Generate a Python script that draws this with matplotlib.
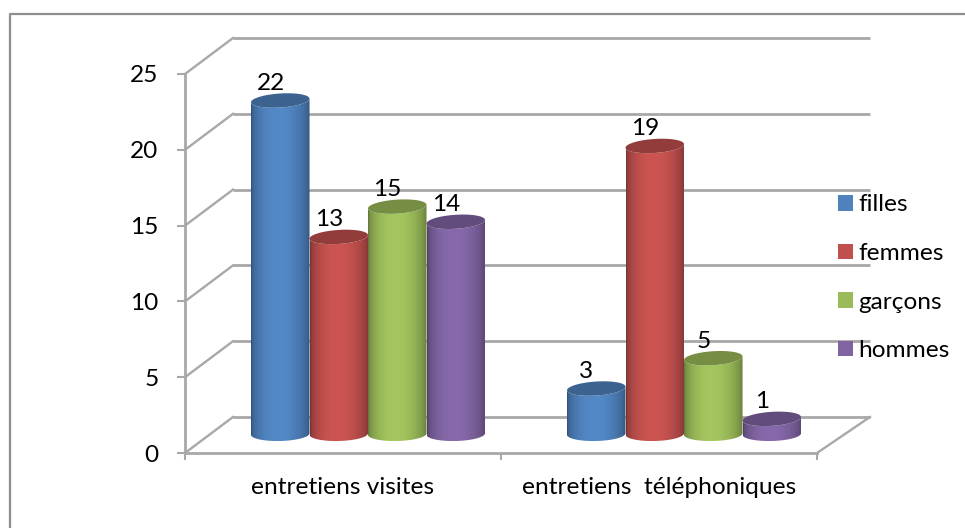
import numpy as np
import matplotlib
matplotlib.use("Agg")
import matplotlib.pyplot as plt
from matplotlib.colors import to_rgb
from matplotlib.lines import Line2D
from matplotlib.patches import Polygon, Patch

categories = ["entretiens visites", "entretiens  téléphoniques"]
series_names = ["filles", "femmes", "garçons", "hommes"]
filles = [22, 3]
femmes = [13, 19]
garcons = [15, 5]
hommes = [14, 1]
y_ticks = [0, 5, 10, 15, 20, 25]
colors = ["#4F81BD", "#C0504D", "#9BBB59", "#8064A2"]

W, H = 965, 528
GREY = "#A8A8A8"
plt.rcParams["font.family"] = ["Lato", "DejaVu Sans"]
FS = 17.6

fig = plt.figure(figsize=(W / 100, H / 100), dpi=100, facecolor="white")
L, R, B, T = 185, 817, 453, 74
ax = fig.add_axes([L / W, 1 - B / H, (R - L) / W, (B - T) / H])
ax.set_facecolor("none")
ax.set_xlim(0, 2)
ax.set_ylim(0, 25)

px_x = 2 / (R - L)
px_y = 25 / (B - T)

# wall and floor lines
dxl, dxr, dy = 48 * px_x, 53 * px_x, 36 * px_y
for v in y_ticks:
    ax.plot([0, dxl], [v, v + dy], color=GREY, lw=1.7, clip_on=False, zorder=1)
    ax.plot([dxl, 2 + dxr], [v + dy, v + dy], color=GREY, lw=2.0, clip_on=False, zorder=1,
            solid_capstyle="butt")
ax.plot([2, 2 + dxr], [0, dy], color=GREY, lw=1.7, clip_on=False, zorder=1)

# axes
for s in ("top", "right"):
    ax.spines[s].set_visible(False)
for s in ("left", "bottom"):
    ax.spines[s].set_color(GREY)
    ax.spines[s].set_linewidth(2.0)
ax.set_yticks(y_ticks)
ax.tick_params(axis="y", length=6, width=1.5, color=GREY, pad=13, labelsize=FS)
ax.set_xticks([0, 1, 2])
ax.set_xticklabels([])
ax.tick_params(axis="x", which="major", length=5, width=1.5, color=GREY)
ax.set_xticks([0.5, 1.5], minor=True)
ax.set_xticklabels(categories, minor=True, fontsize=FS)
ax.tick_params(axis="x", which="minor", length=0, pad=17)


def shade(c, f):
    return np.clip(np.array(to_rgb(c)) * f, 0, 1)


bar_w = 58.5 * px_x
shift_x = 25 * px_x
base_y = 19 * px_y
e_h = 7 * px_y
tilt_px = 1.8 * px_y
theta = np.linspace(0, np.pi, 40)
series = [filles, femmes, garcons, hommes]

z = 3
for ci in range(len(categories)):
    for si, vals in enumerate(series):
        v = vals[ci]
        xc = ci + 0.5 + shift_x + (si - 1.5) * bar_w
        yb = base_y
        yt = base_y + v
        ex = bar_w / 2 * np.cos(theta)
        ey = e_h * np.sin(theta)
        tilt = tilt_px * np.cos(theta)
        low = np.c_[xc + ex[::-1], yb - ey[::-1] + 0.4 * tilt[::-1]]
        up = np.c_[xc + ex, yt - ey + tilt]
        body = Polygon(np.r_[low, up], closed=True, transform=ax.transData,
                       facecolor="none", edgecolor="none")
        ax.add_patch(body)
        t = np.linspace(0, 1, 64)
        g = 0.64 + 0.42 * np.clip(np.sin(np.pi * t ** 0.9), 0, 1) ** 0.55
        img = np.array([shade(colors[si], f) for f in g])[None, :, :]
        im = ax.imshow(img, extent=[xc - bar_w / 2, xc + bar_w / 2, yb - 2, yt + 2],
                       aspect="auto", zorder=z, interpolation="bilinear", clip_on=True)
        im.set_clip_path(body)
        cap_pts = np.r_[np.c_[xc + ex, yt + ey + tilt], np.c_[xc - ex, yt - ey - tilt]]
        ax.add_patch(Polygon(cap_pts, closed=True, facecolor=shade(colors[si], 0.76),
                             edgecolor="none", zorder=z + 0.1, clip_on=False))
        dx_lab, dy_lab = (-9, 17) if v == 22 else (-10, 17)
        ax.annotate(str(v), (xc, yt), xytext=(dx_lab * 0.72, dy_lab * 0.72),
                    textcoords="offset points", ha="center", va="center",
                    fontsize=FS, color="black", zorder=20, annotation_clip=False)
        z += 1

ax.set_xlim(0, 2)
ax.set_ylim(0, 25)

# outer frame
fig.add_artist(Line2D([9.5 / W, 9.5 / W, 1], [0, 1 - 14 / H, 1 - 14 / H],
                      color="#8E8E8E", lw=1.6, transform=fig.transFigure))

handles = [Patch(facecolor=c, edgecolor="none") for c in colors]
leg = fig.legend(handles, series_names, loc="upper left",
                 bbox_to_anchor=(836 / W, 1 - 192 / H), frameon=False, fontsize=FS,
                 handlelength=0.6, handleheight=0.6, handletextpad=0.22,
                 labelspacing=1.13, borderpad=0.1, borderaxespad=0)

fig.savefig("out.png", dpi=100)
